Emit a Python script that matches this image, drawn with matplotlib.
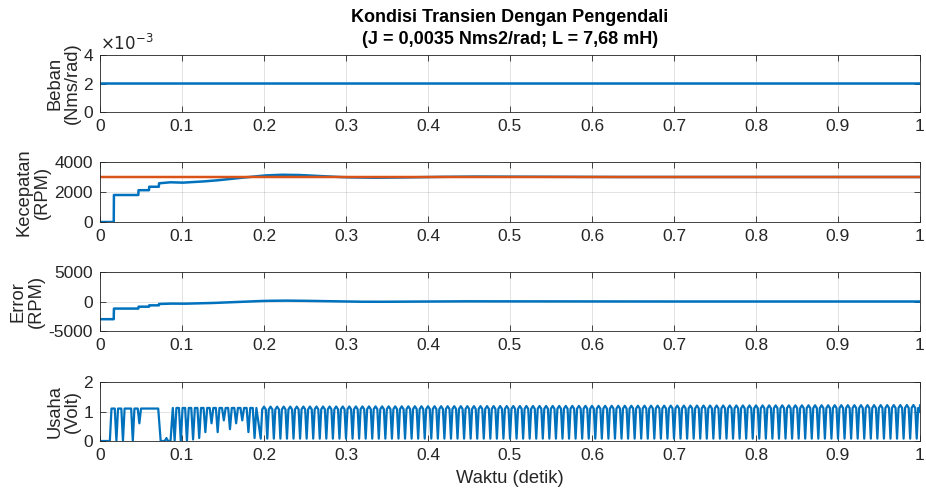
import numpy as np
import matplotlib
matplotlib.use("Agg")
import matplotlib.pyplot as plt

plt.rcParams['font.family'] = ['Liberation Sans', 'DejaVu Sans']

# ---- data -------------------------------------------------------------
x_ticks = [0, 0.1, 0.2, 0.3, 0.4, 0.5, 0.6, 0.7, 0.8, 0.9, 1]
x_tick_labels = ['0', '0.1', '0.2', '0.3', '0.4', '0.5', '0.6', '0.7', '0.8', '0.9', '1']

beban_value = 0.002          # Nms/rad, constant load

ref_speed = 3000             # RPM set point

# motor speed breakpoints (repeated times are steps)
speed_t = [0, 0.017, 0.017, 0.047, 0.047, 0.060, 0.060, 0.072, 0.072, 0.085,
           0.10, 0.12, 0.14, 0.16, 0.18, 0.20, 0.22, 0.24, 0.26, 0.28,
           0.30, 0.33, 0.36, 0.40, 0.45, 0.50, 0.55, 0.60, 1.0]
speed_v = [0, 0, 1800, 1800, 2120, 2120, 2350, 2350, 2580, 2650,
           2620, 2680, 2760, 2880, 2990, 3100, 3150, 3140, 3090, 3030,
           2980, 2950, 2960, 3000, 3030, 3020, 3005, 3000, 3000]

# control effort: start-up segment breakpoints
usaha_start_t = [0, 0.012, 0.014, 0.018, 0.020, 0.022, 0.026, 0.028, 0.030,
                 0.038, 0.040, 0.042, 0.046, 0.048, 0.050, 0.071, 0.074,
                 0.079, 0.081, 0.083, 0.086]
usaha_start_v = [0, 0, 1.1, 1.1, 0.0, 1.1, 1.1, 0.0, 1.1,
                 1.1, 0.0, 1.1, 1.1, 0.6, 1.1, 1.1, 0.0,
                 0.0, 0.1, 0.0, 0.0]
# control effort: troughs of the irregular switching phase
usaha_trough_t = [0.091, 0.0985, 0.106, 0.1135, 0.121, 0.1285, 0.136,
                  0.1435, 0.151, 0.1585, 0.166, 0.1735, 0.181, 0.1885]
usaha_trough_v = [0.0, 0.0, 0.0, 0.05, 0.1, 0.3, 0.6, 0.3, 0.7, 0.4,
                  0.6, 0.7, 0.3, 0.1]
usaha_peak_early = 1.12
# steady limit cycle
usaha_period = 0.008
usaha_steady_start = 0.196
usaha_steady_trough = 0.08
usaha_steady_peak = [1.15, 1.22]   # at start / end of run

# ---- build the traces -----------------------------------------------------
t_fine = np.linspace(0, 1, 4001)
speed = np.interp(t_fine, speed_t, speed_v)
ref = np.full_like(t_fine, ref_speed)
error = speed - ref
beban = np.full_like(t_fine, beban_value)

# control effort as a piecewise trace
ut = list(usaha_start_t)
uv = list(usaha_start_v)
for tc, d in zip(usaha_trough_t, usaha_trough_v):
    ut += [tc - 0.0022, tc, tc + 0.0022]
    uv += [usaha_peak_early, d, usaha_peak_early]
tc = usaha_steady_start
while tc < 1.0:
    pk = usaha_steady_peak[0] + (usaha_steady_peak[1] - usaha_steady_peak[0]) * tc
    ut += [tc, tc + 0.0018, tc + usaha_period / 2, tc + usaha_period - 0.0018]
    uv += [usaha_steady_trough, pk * 0.92, pk, pk * 0.92]
    tc += usaha_period
ut.append(1.0)
uv.append(usaha_steady_trough + 0.9)
ut = np.array(ut)
uv = np.array(uv)
order = np.argsort(ut, kind='stable')
ut, uv = ut[order], uv[order]

# ---- figure ---------------------------------------------------------------
blue = (0.0, 0.447, 0.741)
orange = (0.85, 0.325, 0.098)
axcol = (0.15, 0.15, 0.15)
TICK_FS = 12.5
LABEL_FS = 13.2

fig = plt.figure(figsize=(9.26, 4.93), dpi=100)
W, H = 926, 493
left, width = 100 / W, 820 / W


def make_ax(top_px, bot_px):
    ax = fig.add_axes([left, 1 - bot_px / H, width, (bot_px - top_px) / H])
    ax.set_xlim(0, 1)
    ax.set_xticks(x_ticks)
    ax.set_xticklabels(x_tick_labels)
    ax.grid(True, color=(0.15, 0.15, 0.15), alpha=0.15, linewidth=0.6)
    ax.tick_params(direction='in', length=4, width=0.6, colors=axcol,
                   labelsize=TICK_FS, top=True, right=True, labelcolor=axcol, pad=5)
    for s in ax.spines.values():
        s.set_color(axcol)
        s.set_linewidth(0.6)
    return ax


def ylab(ax, text, right_px=None):
    ax.set_ylabel(text, fontsize=LABEL_FS, color=axcol, linespacing=1.05,
                  labelpad=3)
    if right_px is not None:
        ax.yaxis.set_label_coords((right_px - 100) / 820, 0.5)


ax1 = make_ax(55, 112)
ax1.plot(t_fine, beban, color=blue, lw=1.8)
ax1.set_ylim(0, 0.004)
ax1.set_yticks([0, 0.002, 0.004])
ax1.set_yticklabels(['0', '2', '4'])
ax1.text(0, 1.03, r'$\times10^{-3}$', transform=ax1.transAxes, fontsize=12,
         color=axcol, ha='left', va='bottom')
ylab(ax1, 'Beban\n(Nms/rad)', 81)

ax2 = make_ax(162, 222)
ax2.plot(t_fine, speed, color=blue, lw=1.8)
ax2.plot(t_fine, ref, color=orange, lw=1.8)
ax2.set_ylim(0, 4000)
ax2.set_yticks([0, 2000, 4000])
ylab(ax2, 'Kecepatan\n(RPM)')

ax3 = make_ax(272, 331)
ax3.plot(t_fine, error, color=blue, lw=1.8)
ax3.set_ylim(-5000, 5000)
ax3.set_yticks([-5000, 0, 5000])
ax3.set_yticklabels(['-5000', '0', '5000'])
ylab(ax3, 'Error\n(RPM)')

ax4 = make_ax(382, 441)
ax4.plot(ut, uv, color=blue, lw=1.6)
ax4.set_ylim(0, 2)
ax4.set_yticks([0, 1, 2])
ylab(ax4, 'Usaha\n(Volt)', 81)
ax4.set_xlabel('Waktu (detik)', fontsize=LABEL_FS, color=axcol, labelpad=5)

fig.text(left + width / 2, 1 - 18 / H,
         'Kondisi Transien Dengan Pengendali', ha='center', va='center',
         fontsize=13, fontweight='bold', color=(0, 0, 0))
fig.text(left + width / 2, 1 - 40 / H,
         '(J = 0,0035 Nms2/rad; L = 7,68 mH)', ha='center', va='center',
         fontsize=13, fontweight='bold', color=(0, 0, 0))

fig.savefig('out.png', dpi=100)
